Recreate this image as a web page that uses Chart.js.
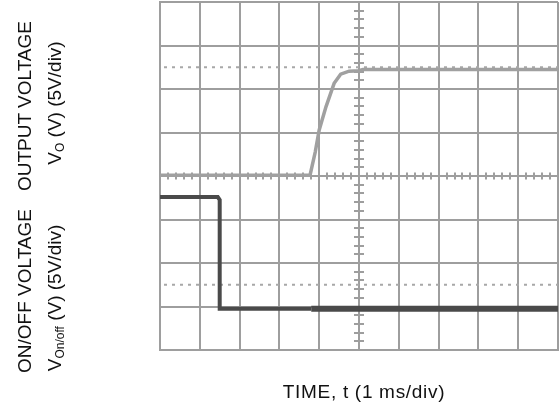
<!DOCTYPE html>
<html>
<head>
<meta charset="utf-8">
<script src="https://cdn.jsdelivr.net/npm/chart.js@4/dist/chart.umd.min.js"></script>
<style>
  html, body { margin: 0; padding: 0; background: #fff; }
  #wrap { position: relative; width: 559px; height: 407px; overflow: hidden; font-family: "Liberation Sans", Arial, sans-serif; color: #111; }
  #scope { position: absolute; left: 0; top: 0; }
  .lbl { position: absolute; font-size: 19px; white-space: nowrap; transform: translate(-50%, -50%) rotate(-90deg); line-height: 1; }
  .lbl sub { font-size: 12px; vertical-align: -3px; }
  #xlbl { position: absolute; left: 364px; top: 392px; transform: translate(-50%, -50%); font-size: 19px; white-space: nowrap; letter-spacing: 0.7px; }
</style>
</head>
<body>
<div id="wrap">
  <canvas id="scope" width="559" height="407"></canvas>
  <div class="lbl" style="left:24px; top:106px;">OUTPUT VOLTAGE</div>
  <div class="lbl" style="left:55px; top:103px;">V<sub>O</sub> (V) (5V/div)</div>
  <div class="lbl" style="left:24px; top:291px;">ON/OFF VOLTAGE</div>
  <div class="lbl" style="left:55px; top:298px;">V<sub>On/off</sub> (V) (5V/div)</div>
  <div id="xlbl">TIME, t (1 ms/div)</div>
</div>
<script>
// ==================== DATA (divisions) ====================
const DIVS_X = 10;
const DIVS_Y = 8;

// output voltage trace, time in div, level in div from bottom
const outTime = [0, 3.77, 3.9, 4.0, 4.17, 4.375, 4.54, 4.75, 5.0, 5.1, 10];
const outLevel = [4.02, 4.02, 4.55, 5.06, 5.59, 6.13, 6.34, 6.41, 6.42, 6.45, 6.45];

// on/off voltage trace
const onoffTime = [0, 1.45, 1.5, 1.5, 3.8, 10];
const onoffLevel = [3.52, 3.52, 3.45, 0.95, 0.95, 0.95];

// dotted reference levels
const refLevels = [6.5, 1.5];

// ==================== COLORS ====================
const GRID = '#9e9e9e';
const OUT_COLOR = '#a0a0a0';
const ONOFF_COLOR = '#4a4a4a';

const pts = (xs, ys) => xs.map((x, i) => ({ x, y: ys[i] }));

// minor ticks on the centre cross of the graticule
const centreTicks = {
    id: 'centreTicks',
    beforeDatasetsDraw(chart) {
        const { ctx, scales: { x, y } } = chart;
        const cx = x.getPixelForValue(DIVS_X / 2);
        const cy = y.getPixelForValue(DIVS_Y / 2);
        ctx.save();
        ctx.strokeStyle = GRID;
        ctx.lineWidth = 2;
        ctx.beginPath();
        for (let i = 0; i <= DIVS_Y * 5; i++) {
            if (i % 5 === 0) continue;
            const py = Math.round(y.getPixelForValue(i / 5));
            ctx.moveTo(cx - 5, py);
            ctx.lineTo(cx + 5, py);
        }
        for (let i = 0; i <= DIVS_X * 5; i++) {
            if (i % 5 === 0) continue;
            const px = Math.round(x.getPixelForValue(i / 5));
            ctx.moveTo(px, cy - 3.5);
            ctx.lineTo(px, cy + 3.5);
        }
        ctx.stroke();
        ctx.restore();
    }
};

function initScope() {
    const ctx = document.getElementById('scope').getContext('2d');
    const refSets = refLevels.map(lv => ({
        data: [{ x: 0, y: lv }, { x: DIVS_X, y: lv }],
        borderColor: '#a8a8a8',
        borderWidth: 2,
        borderDash: [3, 5],
        borderDashOffset: -4,
        pointRadius: 0,
        order: 3,
    }));

    new Chart(ctx, {
        type: 'line',
        data: {
            datasets: [
                ...refSets,
                {
                    data: pts(outTime, outLevel),
                    borderColor: OUT_COLOR,
                    borderWidth: 3.5,
                    pointRadius: 0,
                    tension: 0,
                    order: 2,
                },
                {
                    data: pts(onoffTime, onoffLevel),
                    borderColor: ONOFF_COLOR,
                    borderWidth: 4,
                    pointRadius: 0,
                    tension: 0,
                    order: 1,
                    segment: {
                        borderWidth: c => c.p0.parsed.x >= 3.8 ? 6 : 4,
                    },
                },
            ]
        },
        options: {
            responsive: false,
            animation: false,
            layout: { padding: { left: 160, top: 2, right: 1, bottom: 57 } },
            plugins: { legend: { display: false }, tooltip: { enabled: false } },
            scales: {
                x: {
                    type: 'linear', min: 0, max: DIVS_X,
                    ticks: { display: false, stepSize: 1 },
                    grid: { color: GRID, lineWidth: 2, drawTicks: false },
                    border: { color: GRID, width: 2 },
                },
                y: {
                    type: 'linear', min: 0, max: DIVS_Y,
                    ticks: { display: false, stepSize: 1 },
                    grid: { color: GRID, lineWidth: 2, drawTicks: false },
                    border: { color: GRID, width: 2 },
                }
            }
        },
        plugins: [centreTicks]
    });
}

document.addEventListener('DOMContentLoaded', initScope);
</script>
</body>
</html>
